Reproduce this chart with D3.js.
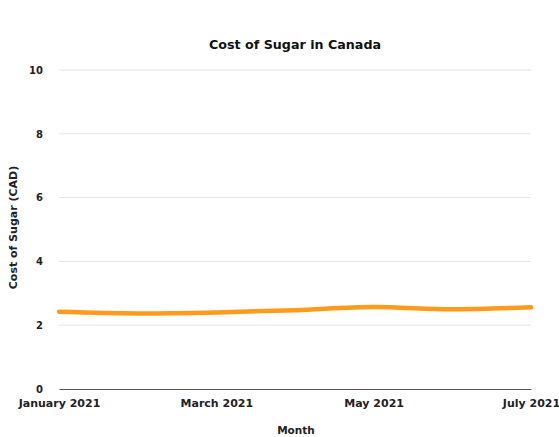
<!DOCTYPE html>
<html>
<head>
<meta charset="utf-8">
<script src="https://cdn.jsdelivr.net/npm/d3@7"></script>
<style>
  html, body { margin: 0; padding: 0; background: #fff; }
  svg { display: block; font-family: "DejaVu Sans", "Inter", sans-serif; }
</style>
</head>
<body>
<svg id="chart" width="559" height="437"></svg>
<script>
// Monthly cost of sugar (CAD), January–July 2021
const months = ["January 2021", "February 2021", "March 2021", "April 2021", "May 2021", "June 2021", "July 2021"];
const costs = [2.42, 2.37, 2.40, 2.47, 2.57, 2.50, 2.56];
const xTickLabels = ["January 2021", "March 2021", "May 2021", "July 2021"];
const yTicks = [0, 2, 4, 6, 8, 10];

const FONT = "DejaVu Sans, Inter, sans-serif";
const svg = d3.select("#chart");
const margin = { top: 70, right: 28, bottom: 48, left: 59 };
const W = 559, H = 437;
const innerW = W - margin.left - margin.right;
const innerH = H - margin.top - margin.bottom;

const x = d3.scalePoint().domain(months).range([0, innerW]);
const y = d3.scaleLinear().domain([0, 10]).range([innerH, 0]);

const g = svg.append("g").attr("transform", `translate(${margin.left},${margin.top})`);

// horizontal gridlines
g.append("g")
  .selectAll("line")
  .data(yTicks.filter(d => d > 0))
  .join("line")
  .attr("x1", 0).attr("x2", innerW)
  .attr("y1", d => y(d)).attr("y2", d => y(d))
  .attr("stroke", "#e4e4e4").attr("stroke-width", 1);

// y axis labels
const yAxis = g.append("g")
  .call(d3.axisLeft(y).tickValues(yTicks).tickSize(0).tickPadding(16));
yAxis.select(".domain").remove();
yAxis.selectAll("text")
  .attr("font-size", 10).attr("font-weight", 700).attr("fill", "#222")
  .attr("font-family", FONT);

// x axis baseline and labels
const xAxis = g.append("g")
  .attr("transform", `translate(0,${innerH})`)
  .call(d3.axisBottom(x).tickValues(xTickLabels).tickSize(0).tickPadding(10));
xAxis.select(".domain").attr("stroke", "#555").attr("stroke-width", 1.2);
xAxis.selectAll("text")
  .attr("font-size", 11).attr("font-weight", 700).attr("fill", "#222")
  .attr("font-family", FONT);

// cost line
const line = d3.line()
  .x((d, i) => x(months[i]))
  .y(d => y(d))
  .curve(d3.curveMonotoneX);

g.append("path")
  .datum(costs)
  .attr("d", line)
  .attr("fill", "none")
  .attr("stroke", "#ff9a1a")
  .attr("stroke-width", 4.5)
  .attr("stroke-linecap", "round")
  .attr("stroke-linejoin", "round");

// title
svg.append("text")
  .attr("x", 295).attr("y", 49)
  .attr("text-anchor", "middle")
  .attr("font-size", 12.7).attr("font-weight", 700).attr("fill", "#111")
  .attr("font-family", FONT)
  .text("Cost of Sugar in Canada");

// axis titles
svg.append("text")
  .attr("x", 296).attr("y", 434)
  .attr("text-anchor", "middle")
  .attr("font-size", 10.5).attr("font-weight", 700).attr("fill", "#222")
  .attr("font-family", FONT)
  .text("Month");

svg.append("text")
  .attr("transform", `translate(17,${margin.top + innerH / 2 - 2}) rotate(-90)`)
  .attr("text-anchor", "middle")
  .attr("font-size", 11).attr("font-weight", 700).attr("fill", "#222")
  .attr("font-family", FONT)
  .text("Cost of Sugar (CAD)");
</script>
</body>
</html>
